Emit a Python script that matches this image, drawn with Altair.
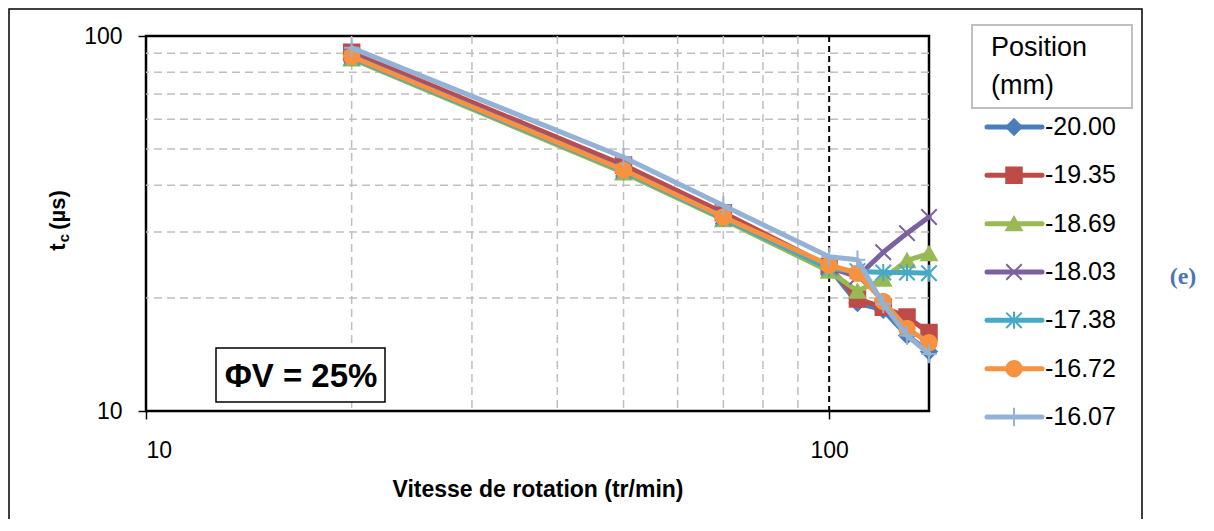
import altair as alt
import pandas as pd

# ---------------- data ----------------
speeds = [20, 50, 70, 100, 110, 120, 130, 140]
positions = ["-20.00", "-19.35", "-18.69", "-18.03", "-17.38", "-16.72", "-16.07"]
tc_m2000 = [89.0, 44.5, 33.2, 24.1, 19.4, 18.6, 15.9, 14.4]
tc_m1935 = [90.5, 45.3, 33.8, 24.3, 19.9, 18.9, 17.8, 16.2]
tc_m1869 = [87.0, 43.2, 32.4, 23.6, 20.9, 22.5, 25.2, 26.3]
tc_m1803 = [89.0, 44.2, 33.0, 24.2, 22.8, 26.5, 29.8, 32.9]
tc_m1738 = [87.5, 43.6, 32.6, 24.0, 23.6, 23.4, 23.4, 23.3]
tc_m1672 = [88.2, 43.9, 32.9, 24.5, 23.3, 19.6, 16.6, 15.2]
tc_m1607 = [93.0, 47.5, 35.3, 25.8, 25.3, 19.3, 15.9, 14.2]
series_values = [tc_m2000, tc_m1935, tc_m1869, tc_m1803, tc_m1738, tc_m1672, tc_m1607]

grid_x = [20, 30, 40, 50, 60, 70, 80, 90]
grid_y = [20, 30, 40, 50, 60, 70, 80, 90]
ref_x = [100]
tick_vals = [10, 100]

colors = ["#4A7EBB", "#BE4B48", "#98B954", "#7D60A0", "#46AAC5", "#F69240", "#94B2D6"]
shapes = [
    "diamond",
    "square",
    "triangle-up",
    "M-1,-1L1,1M-1,1L1,-1",
    "M-1,-1L1,1M-1,1L1,-1M0,-1.1L0,1.1",
    "circle",
    "M0,-1.2L0,1.2M-1,0L1,0",
]

rows = []
for p, vals in zip(positions, series_values):
    for s, v in zip(speeds, vals):
        rows.append({"pos": p, "speed": s, "tc": v})
df = pd.DataFrame(rows)
leg_df = pd.DataFrame({"pos": positions, "row": list(range(len(positions)))})
dummy = pd.DataFrame({"a": [0]})

FONT = "Liberation Sans"
XTITLE = "Vitesse de rotation (tr/min)"

xscale = alt.Scale(type="log", domain=[10, 140], nice=False)
yscale = alt.Scale(type="log", domain=[10, 100], nice=False)
xaxis = alt.Axis(values=tick_vals, format="d", title=XTITLE, grid=False)
yaxis = alt.Axis(values=tick_vals, format="d", title=None, grid=False)
cscale = alt.Scale(domain=positions, range=colors)
sscale = alt.Scale(domain=positions, range=shapes)

# ---------------- grid ----------------
hgrid = alt.Chart(pd.DataFrame({"gy": grid_y})).mark_rule(
    color="#BFBFBF", strokeWidth=1.5, strokeDash=[8, 5]
).encode(y=alt.Y("gy:Q", scale=yscale, axis=yaxis))

vgrid = alt.Chart(pd.DataFrame({"gx": grid_x})).mark_rule(
    color="#BFBFBF", strokeWidth=1.5, strokeDash=[8, 5]
).encode(x=alt.X("gx:Q", scale=xscale, axis=xaxis))

vref = alt.Chart(pd.DataFrame({"gx": ref_x})).mark_rule(
    color="black", strokeWidth=2, strokeDash=[6, 4]
).encode(x=alt.X("gx:Q", scale=xscale, axis=xaxis))

# ---------------- phi box ----------------
phi_box = alt.Chart(dummy).mark_rect(fill="white", stroke="black", strokeWidth=1.5).encode(
    x=alt.value(70), x2=alt.value(239), y=alt.value(312), y2=alt.value(366)
)
phi_txt = alt.Chart(dummy).mark_text(
    text="ΦV = 25%", font=FONT, fontSize=33, fontWeight="bold", color="black",
    align="center", baseline="middle"
).encode(x=alt.value(155), y=alt.value(341))

# ---------------- series ----------------
series_layers = []
base = alt.Chart(df)
for p in positions:
    b = base.transform_filter(alt.datum.pos == p)
    ln = b.mark_line(strokeWidth=5, strokeJoin="round", strokeCap="round").encode(
        x=alt.X("speed:Q", scale=xscale, axis=xaxis),
        y=alt.Y("tc:Q", scale=yscale, axis=yaxis),
        color=alt.Color("pos:N", scale=cscale, legend=None),
    )
    pt = b.mark_point(filled=True, size=240, strokeWidth=2, opacity=1).encode(
        x=alt.X("speed:Q", scale=xscale, axis=xaxis),
        y=alt.Y("tc:Q", scale=yscale, axis=yaxis),
        color=alt.Color("pos:N", scale=cscale, legend=None),
        stroke=alt.Stroke("pos:N", scale=cscale, legend=None),
        shape=alt.Shape("pos:N", scale=sscale, legend=None),
    )
    series_layers += [ln, pt]

main = alt.layer(hgrid, vgrid, vref, phi_box, phi_txt, *series_layers)

# ---------------- manual legend ----------------
ly = alt.Y("row:Q", scale=alt.Scale(domain=[0, 6], range=[91, 381]), axis=None)
leg_line = alt.Chart(leg_df).mark_rule(strokeWidth=5, strokeCap="round").encode(
    x=alt.value(841), x2=alt.value(896), y=ly,
    color=alt.Color("pos:N", scale=cscale, legend=None),
)
leg_pt = alt.Chart(leg_df).mark_point(filled=True, size=240, strokeWidth=2, opacity=1).encode(
    x=alt.value(868), y=ly,
    color=alt.Color("pos:N", scale=cscale, legend=None),
    stroke=alt.Stroke("pos:N", scale=cscale, legend=None),
    shape=alt.Shape("pos:N", scale=sscale, legend=None),
)
leg_txt = alt.Chart(leg_df).mark_text(
    align="left", baseline="middle", font=FONT, fontSize=25, color="black"
).encode(x=alt.value(899), y=ly, text="pos:N")
legend = alt.layer(leg_line, leg_pt, leg_txt)

# ---------------- decorations ----------------
outer = alt.Chart(dummy).mark_rect(fill="transparent", stroke="black", strokeWidth=1.5).encode(
    x=alt.value(-137), x2=alt.value(996), y=alt.value(-27), y2=alt.value(492)
)
leg_box = alt.Chart(dummy).mark_rect(fill="white", stroke="#BFBFBF", strokeWidth=2).encode(
    x=alt.value(826), x2=alt.value(986), y=alt.value(-11), y2=alt.value(72)
)
leg_t1 = alt.Chart(dummy).mark_text(
    text="Position", align="left", baseline="middle", font=FONT, fontSize=27, color="black"
).encode(x=alt.value(845), y=alt.value(12))
leg_t2 = alt.Chart(dummy).mark_text(
    text="(mm)", align="left", baseline="middle", font=FONT, fontSize=27, color="black"
).encode(x=alt.value(845), y=alt.value(50))

yt_t = alt.Chart(dummy).mark_text(
    text="t", angle=270, align="center", baseline="middle", font=FONT, fontSize=22,
    fontWeight="bold", color="black"
).encode(x=alt.value(-88), y=alt.value(211))
yt_c = alt.Chart(dummy).mark_text(
    text="c", angle=270, align="center", baseline="middle", font=FONT, fontSize=15,
    fontWeight="bold", color="black"
).encode(x=alt.value(-82), y=alt.value(202))
yt_u = alt.Chart(dummy).mark_text(
    text="(µs)", angle=270, align="center", baseline="middle", font=FONT, fontSize=22,
    fontWeight="bold", color="black"
).encode(x=alt.value(-88), y=alt.value(174))

e_lbl = alt.Chart(dummy).mark_text(
    text="(e)", align="center", baseline="middle", font="Liberation Serif", fontSize=24,
    fontWeight="bold", color="#4F74B3"
).encode(x=alt.value(1037), y=alt.value(241))

chart = alt.layer(
    outer, main, legend, leg_box, leg_t1, leg_t2, yt_t, yt_c, yt_u, e_lbl
).resolve_scale(y="independent").properties(
    width=783,
    height=375,
    autosize=alt.AutoSizeParams(type="none"),
    padding={"left": 138, "top": 28, "right": 270, "bottom": 108},
).configure_view(
    stroke="black", strokeWidth=2.5
).configure_axis(
    labelFont=FONT, labelFontSize=23, labelColor="black",
    tickColor="black", tickSize=8, tickWidth=1.5, domain=False,
    titleFont=FONT, titleFontSize=23, titleFontWeight="bold", titleColor="black",
).configure_axisX(
    labelPadding=20, titlePadding=16
).configure_axisY(
    labelPadding=16
)

chart.save("out.html", embed_options={"renderer": "svg", "actions": False})
